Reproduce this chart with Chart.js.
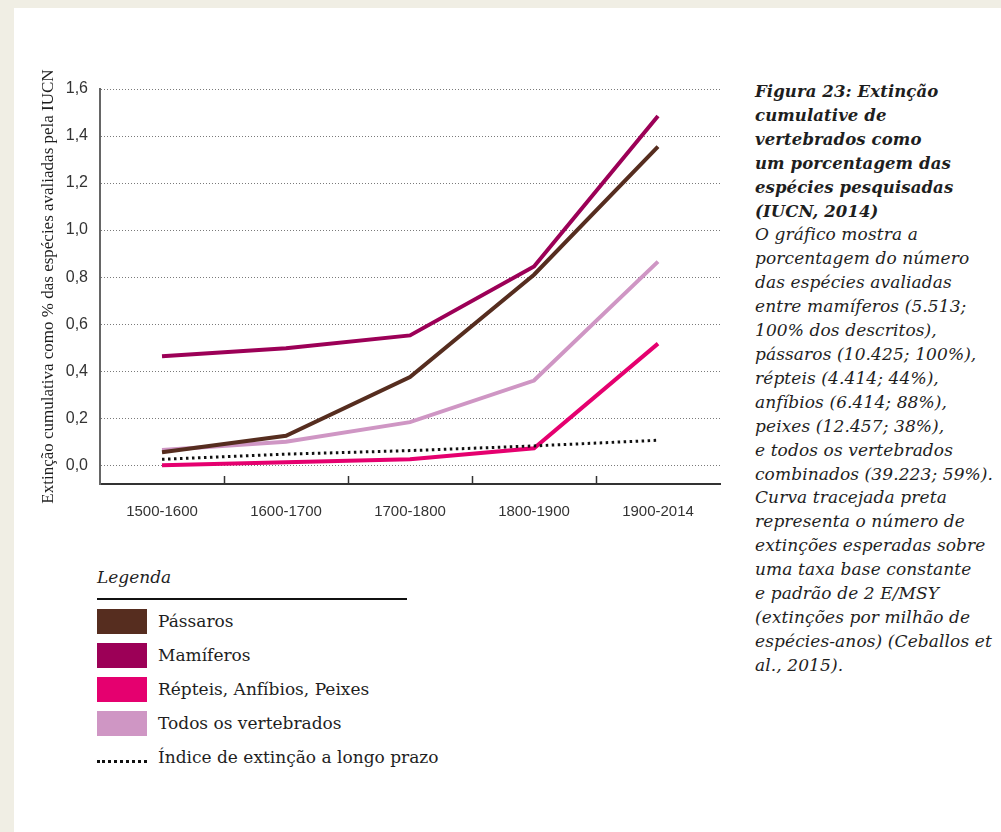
<!DOCTYPE html>
<html>
<head>
<meta charset="utf-8">
<script src="https://cdn.jsdelivr.net/npm/chart.js@4.4.1/dist/chart.umd.min.js"></script>
<style>
  html, body { margin: 0; padding: 0; }
  body { width: 1001px; height: 832px; background: #f0eee4; position: relative; overflow: hidden; }
  #panel { position: absolute; left: 14px; top: 8px; right: 0; bottom: 0; background: #ffffff; }
  #wrap { position: absolute; left: 0; top: 0; width: 740px; height: 545px; }
  #note { position: absolute; left: 755px; top: 80px; width: 246px; font-family: "DejaVu Serif", serif; font-style: italic; font-size: 17px; line-height: 23.9px; color: #1e1e1e; white-space: nowrap; letter-spacing: 0.1px; }
  #note b { font-weight: bold; font-size: 16.5px; }
  #legend { position: absolute; left: 97px; top: 565px; font-family: "DejaVu Serif", serif; color: #1e1e1e; }
  #legend .title { font-style: italic; font-size: 17px; line-height: 24px; }
  #legend .rule { width: 310px; height: 2px; background: #111; margin-top: 9px; margin-bottom: 4px; }
  #legend .item { display: flex; align-items: center; height: 34px; font-size: 17px; }
  #legend .sw { width: 50px; height: 25px; margin-right: 11px; flex: none; }
  #legend .dots { width: 50px; height: 0; border-top: 3px dotted #111; margin-right: 11px; margin-top: 9px; flex: none; }
</style>
</head>
<body>
<div id="panel"></div>
<div id="wrap"><canvas id="c" width="740" height="545"></canvas></div>
<div id="note"><b>Figura 23: Extinção<br>cumulative de<br>vertebrados como<br>um porcentagem das<br>espécies pesquisadas<br>(IUCN, 2014)</b><br>O gráfico mostra a<br>porcentagem do número<br>das espécies avaliadas<br>entre mamíferos (5.513;<br>100% dos descritos),<br>pássaros (10.425; 100%),<br>répteis (4.414; 44%),<br>anfíbios (6.414; 88%),<br>peixes (12.457; 38%),<br>e todos os vertebrados<br>combinados (39.223; 59%).<br>Curva tracejada preta<br>representa o número de<br>extinções esperadas sobre<br>uma taxa base constante<br>e padrão de 2 E/MSY<br>(extinções por milhão de<br>espécies-anos) (Ceballos et<br>al., 2015).</div>
<div id="legend"></div>
<script>
const categories = ['1500-1600', '1600-1700', '1700-1800', '1800-1900', '1900-2014'];
const passaros  = [0.055, 0.125, 0.375, 0.81, 1.355];
const mamiferos = [0.463, 0.497, 0.552, 0.845, 1.485];
const repteis   = [0.0, 0.013, 0.025, 0.072, 0.517];
const todos     = [0.065, 0.10, 0.183, 0.36, 0.866];
const indice    = [0.025, 0.047, 0.062, 0.082, 0.106];
const yTickValues = [0, 0.2, 0.4, 0.6, 0.8, 1.0, 1.2, 1.4, 1.6];
const seriesNames = ['Pássaros', 'Mamíferos', 'Répteis, Anfíbios, Peixes', 'Todos os vertebrados', 'Índice de extinção a longo prazo'];
const seriesColors = ['#562d1f', '#9c0057', '#e5006f', '#cf96c4', '#111111'];
const yTitle = 'Extinção cumulativa como % das espécies avaliadas pela IUCN';

const seriesData = [passaros, mamiferos, repteis, todos, indice];

const datasets = seriesData.map((d, i) => {
  const dotted = i === 4;
  return {
    label: seriesNames[i],
    data: d,
    borderColor: seriesColors[i],
    backgroundColor: seriesColors[i],
    borderWidth: dotted ? 3 : 4,
    borderDash: dotted ? [2.5, 3.5] : [],
    borderCapStyle: 'butt',
    borderJoinStyle: 'miter',
    pointRadius: 0,
    tension: 0,
    fill: false,
    order: [3, 2, 1, 4, 0][i]
  };
});

const innerTicks = {
  id: 'innerTicks',
  afterDraw(chart) {
    const xs = chart.scales.x;
    const ys = chart.scales.y;
    const ctx = chart.ctx;
    const { left, top, bottom } = chart.chartArea;
    ctx.save();
    ctx.strokeStyle = '#333';
    ctx.lineWidth = 1.5;
    for (let i = 0; i < categories.length - 1; i++) {
      const x = Math.round((xs.getPixelForTick(i) + xs.getPixelForTick(i + 1)) / 2) + 0.5;
      ctx.beginPath();
      ctx.moveTo(x, bottom - 8);
      ctx.lineTo(x, bottom);
      ctx.stroke();
    }
    // solid y-axis line
    ctx.strokeStyle = '#666';
    ctx.lineWidth = 2;
    ctx.beginPath();
    ctx.moveTo(left, top);
    ctx.lineTo(left, bottom);
    ctx.stroke();
    ctx.restore();
  }
};

new Chart(document.getElementById('c'), {
  type: 'line',
  data: { labels: categories, datasets },
  options: {
    responsive: false,
    animation: false,
    devicePixelRatio: 1,
    layout: { padding: { left: 0, right: 20, top: 89, bottom: 21 } },
    plugins: { legend: { display: false }, tooltip: { enabled: false } },
    scales: {
      x: {
        type: 'category',
        offset: true,
        afterFit(s) { s.height = 40; },
        grid: { display: true, offset: true, drawOnChartArea: false, drawTicks: false },
        border: { display: true, color: '#333', width: 2 },
        ticks: { color: '#333', padding: 19, font: { family: '"Liberation Sans Narrow", "Liberation Sans", sans-serif', size: 15 } }
      },
      y: {
        min: -0.08,
        max: 1.6,
        afterFit(s) { s.width = 100; },
        afterBuildTicks(s) { s.ticks = yTickValues.map(v => ({ value: v })); },
        grid: { color: '#7a7a7a', lineWidth: 1, drawTicks: false },
        border: { display: true, color: '#666', width: 2, dash: [1, 2] },
        ticks: {
          color: '#333', padding: 12,
          font: { family: '"Liberation Sans Narrow", "Liberation Sans", sans-serif', size: 16 },
          callback: v => v.toFixed(1).replace('.', ',')
        },
        title: {
          display: true, text: yTitle, color: '#1e1e1e',
          font: { family: '"Liberation Serif", serif', size: 17 },
          padding: { top: 38, bottom: 0 }
        }
      }
    }
  },
  plugins: [innerTicks]
});

// Legend from series arrays
const lg = document.getElementById('legend');
let html = '<div class="title">Legenda</div><div class="rule"></div>';
seriesNames.forEach((n, i) => {
  const mark = i === 4 ? '<div class="dots"></div>' : `<div class="sw" style="background:${seriesColors[i]}"></div>`;
  html += `<div class="item">${mark}<span>${n}</span></div>`;
});
lg.innerHTML = html;
</script>
</body>
</html>
